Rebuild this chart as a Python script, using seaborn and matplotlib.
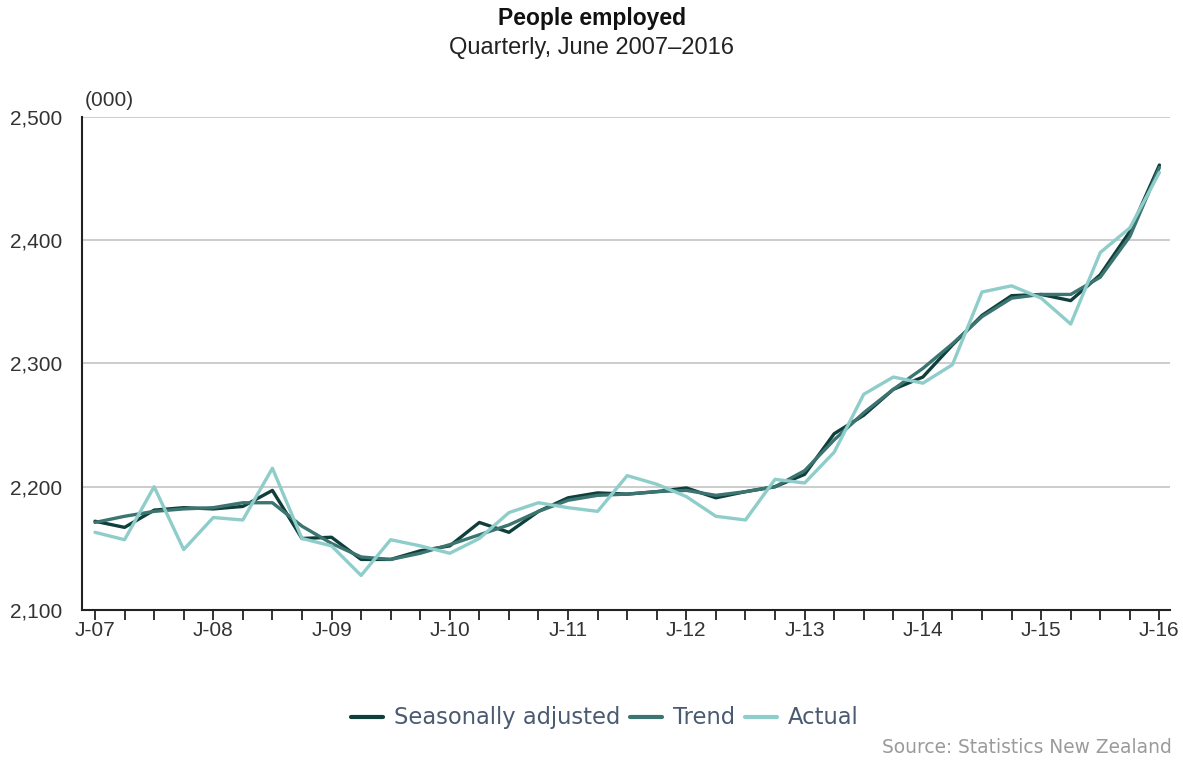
import matplotlib
matplotlib.use("Agg")
import matplotlib.pyplot as plt
import seaborn as sns
import pandas as pd
from matplotlib.ticker import FuncFormatter, MultipleLocator
from matplotlib.lines import Line2D

quarter_index = list(range(37))
tick_positions = [0, 4, 8, 12, 16, 20, 24, 28, 32, 36]
tick_labels = ["J-07", "J-08", "J-09", "J-10", "J-11", "J-12", "J-13", "J-14", "J-15", "J-16"]

seasonally_adjusted = [2172, 2167, 2181, 2183, 2182, 2184, 2197, 2158, 2159, 2141,
                       2141, 2148, 2152, 2171, 2163, 2180, 2191, 2195, 2194, 2196,
                       2199, 2191, 2196, 2200, 2210, 2243, 2258, 2279, 2289, 2315,
                       2339, 2355, 2356, 2351, 2372, 2407, 2461]
trend = [2171, 2176, 2180, 2182, 2183, 2187, 2187, 2168, 2154, 2143,
         2141, 2146, 2153, 2161, 2169, 2180, 2189, 2193, 2194, 2196,
         2197, 2193, 2196, 2200, 2213, 2238, 2260, 2279, 2296, 2316,
         2338, 2353, 2356, 2356, 2370, 2403, 2459]
actual = [2163, 2157, 2200, 2149, 2175, 2173, 2215, 2158, 2152, 2128,
          2157, 2152, 2146, 2158, 2179, 2187, 2183, 2180, 2209, 2202,
          2192, 2176, 2173, 2206, 2203, 2228, 2275, 2289, 2284, 2299,
          2358, 2363, 2353, 2332, 2390, 2410, 2455]

series_names = ["Seasonally adjusted", "Trend", "Actual"]
colors = ["#0f3f3b", "#3b7470", "#8ecdca"]

df = pd.DataFrame({
    "q": quarter_index * 3,
    "value": seasonally_adjusted + trend + actual,
    "series": [series_names[0]] * 37 + [series_names[1]] * 37 + [series_names[2]] * 37,
})

sns.set_theme(style="white")
plt.rcParams["font.family"] = ["Liberation Sans", "DejaVu Sans"]

fig = plt.figure(figsize=(11.83, 7.66), dpi=100)
ax = fig.add_axes([0.0693, 0.2037, 0.92, 0.6436])

sns.lineplot(data=df, x="q", y="value", hue="series", hue_order=series_names,
             palette=colors, linewidth=2.4, ax=ax, legend=False)

ax.set_xlim(-0.44, 36.37)
ax.set_ylim(2100, 2500)
ax.set_yticks([2100, 2200, 2300, 2400, 2500])
ax.yaxis.set_major_formatter(FuncFormatter(lambda v, p: f"{int(v):,}"))
ax.set_xticks(tick_positions)
ax.set_xticklabels(tick_labels)
ax.xaxis.set_minor_locator(MultipleLocator(1))
ax.set_xlabel("")
ax.set_ylabel("")

for yv in [2200, 2300, 2400, 2500]:
    ax.axhline(yv, color="#c4c4c4", linewidth=1.2, zorder=0)

for s in ["top", "right"]:
    ax.spines[s].set_visible(False)
for s in ["left", "bottom"]:
    ax.spines[s].set_color("#222222")
    ax.spines[s].set_linewidth(1.5)

ax.tick_params(axis="x", which="both", direction="out", length=7, width=1.3,
               color="#222222", labelsize=15, labelcolor="#333333", pad=1, bottom=True)
ax.tick_params(axis="y", length=0, labelsize=15, labelcolor="#333333", pad=14.5)

fig.text(0.5, 0.9765, "People employed", ha="center", va="center",
         fontsize=16.5, fontweight="bold", color="#111111")
fig.text(0.5, 0.937, "Quarterly, June 2007\u20132016", ha="center", va="center",
         fontsize=17, color="#222222")
fig.text(0.0715, 0.869, "(000)", ha="left", va="center", fontsize=15, color="#333333")

handles = [Line2D([0], [0], color=c, linewidth=3) for c in colors]
leg = fig.legend(handles, series_names, loc="center", bbox_to_anchor=(0.5114, 0.0627),
                 ncol=3, frameon=False, handlelength=1.4, handletextpad=0.49,
                 columnspacing=0.44, prop={"family": "DejaVu Sans", "size": 16.3})
for t in leg.get_texts():
    t.set_color("#4a5a70")

fig.text(0.991, 0.012, "Source: Statistics New Zealand", ha="right", va="bottom",
         fontsize=13.4, color="#9a9a9a", family="DejaVu Sans")

fig.savefig("out.png", dpi=100)
